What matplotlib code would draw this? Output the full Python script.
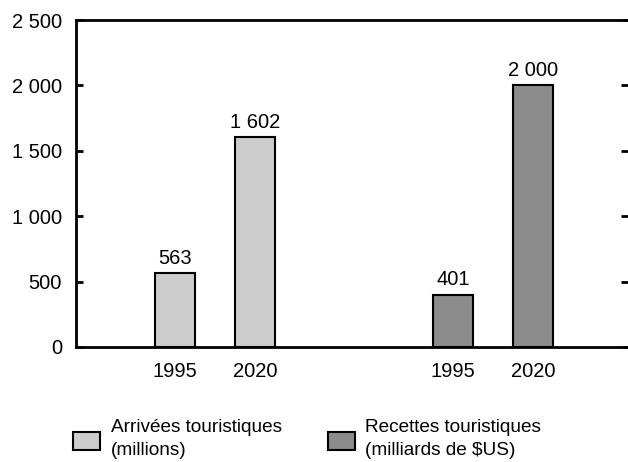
import matplotlib.pyplot as plt
from matplotlib.patches import Rectangle

# Data
years = ["1995", "2020"]
arrivals = [563, 1602]        # millions
receipts = [401, 2000]        # milliards de $US
series_labels = ["Arrivées touristiques\n(millions)",
                 "Recettes touristiques\n(milliards de $US)"]
yticks = [0, 500, 1000, 1500, 2000, 2500]

light = "#cccccc"
dark = "#8c8c8c"
W, H = 628, 462


def fmt(v):
    # French style thousands separator
    return f"{v:,}".replace(",", " ")


plt.rcParams["font.family"] = ["Liberation Sans", "DejaVu Sans"]
plt.rcParams["font.size"] = 14.5

fig = plt.figure(figsize=(W / 100, H / 100), dpi=100)
ax = fig.add_axes([76 / W, 1 - 347 / H, 1 - 76 / W, (347 - 20) / H])

pos_a = [1, 2]
pos_b = [4.475, 5.475]
width = 0.5

bars_a = ax.bar(pos_a, arrivals, width, color=light, edgecolor="black", linewidth=1.5)
bars_b = ax.bar(pos_b, receipts, width, color=dark, edgecolor="black", linewidth=1.5)

for bars, vals in [(bars_a, arrivals), (bars_b, receipts)]:
    for b, v in zip(bars, vals):
        ax.annotate(fmt(v), (b.get_x() + b.get_width() / 2, v),
                    xytext=(0, 4), textcoords="offset points",
                    ha="center", va="bottom", fontsize=14.5)

ax.set_xlim(-0.2375, 6.6625)
ax.set_ylim(0, 2500)
ax.set_xticks(pos_a + pos_b)
ax.set_xticklabels(years + years)
ax.set_yticks(yticks)
ax.set_yticklabels([fmt(v) for v in yticks])

ax.tick_params(axis="x", length=0, pad=11, labelsize=14.5)
ax.tick_params(axis="y", direction="in", length=5, width=2, left=True, right=True,
               pad=10, labelsize=14.5)

ax.spines["right"].set_visible(False)
for s in ["left", "top", "bottom"]:
    ax.spines[s].set_linewidth(2)

# legend drawn by hand: swatch + two-line label
for (px, tx), col, lab in zip([(73, 111), (328, 365)], [light, dark], series_labels):
    fig.add_artist(Rectangle((px / W, 1 - 450 / H), 27 / W, 18 / H,
                             transform=fig.transFigure, facecolor=col,
                             edgecolor="black", linewidth=1.5))
    fig.text(tx / W, 1 - 439 / H, lab, ha="left", va="center",
             fontsize=13.7, linespacing=1.5)

fig.savefig("out.png", dpi=100)
